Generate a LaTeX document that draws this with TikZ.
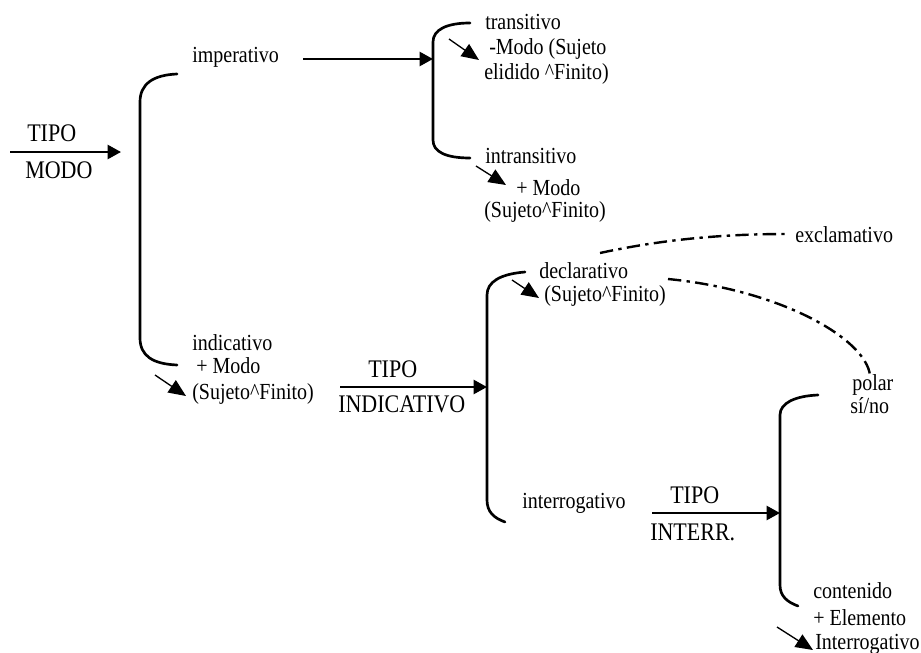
\documentclass[tikz,border=0pt]{standalone}
\usepackage{fontspec}
\usepackage{graphicx}
\setmainfont{Liberation Serif}
\usetikzlibrary{arrows.meta}
\newcommand{\tallT}[1]{\scalebox{1}[1.15]{#1}}
\begin{document}
\begin{tikzpicture}[x=0.75pt,y=-0.75pt,
  lbl/.style={anchor=base west,inner sep=0pt,font=\fontsize{15pt}{18pt}\selectfont},
  caplbl/.style={lbl,font=\fontsize{16.5pt}{18pt}\selectfont},
  brk/.style={line width=2pt,line cap=round},
  bigarrow/.style={line width=1.75pt,-{Triangle[length=10pt,width=10.5pt]}},
  smallarrow/.style={line width=1pt,-{Triangle[length=13pt,width=11pt]}},
  dashdot/.style={line width=1.8pt,dash pattern=on 10pt off 4pt on 2.5pt off 4pt}]
\useasboundingbox (0,0) rectangle (921,653);

% texts
\node[caplbl] (tipoA) at (27,141) {\tallT{TIPO}};
\node[caplbl] (modoA) at (25,178) {\tallT{MODO}};
\node[lbl] (imper) at (192,62) {\tallT{imperativo}};
\node[lbl] (trans) at (485,29) {\tallT{transitivo}};
\node[lbl] (transB) at (489,54) {\tallT{-Modo (Sujeto}};
\node[lbl] (transC) at (484,79) {\tallT{elidido \^{}Finito)}};
\node[lbl] (intrans) at (485,163) {\tallT{intransitivo}};
\node[lbl] (intransB) at (516,195) {\tallT{+ Modo}};
\node[lbl] (intransC) at (484,217) {\tallT{(Sujeto\^{}Finito)}};
\node[lbl] (indic) at (192,350) {\tallT{indicativo}};
\node[lbl] (indicB) at (196,373) {\tallT{+ Modo}};
\node[lbl] (indicC) at (192,399) {\tallT{(Sujeto\^{}Finito)}};
\node[caplbl] (tipoB) at (368,377) {\tallT{TIPO}};
\node[caplbl] (indicat) at (338,412) {\tallT{INDICATIVO}};
\node[lbl] (excl) at (795,242) {\tallT{exclamativo}};
\node[lbl] (decl) at (539,278) {\tallT{declarativo}};
\node[lbl] (declB) at (544,301) {\tallT{(Sujeto\^{}Finito)}};
\node[lbl] (polar) at (852,390) {\tallT{polar}};
\node[lbl] (sino) at (850,413) {\tallT{sí/no}};
\node[lbl] (interr) at (522,508) {\tallT{interrogativo}};
\node[caplbl] (tipoC) at (670,503) {\tallT{TIPO}};
\node[caplbl] (interrB) at (650,540) {\tallT{INTERR.}};
\node[lbl] (cont) at (813,598) {\tallT{contenido}};
\node[lbl] (contB) at (813,625) {\tallT{+ Elemento}};
\node[lbl] (contC) at (815,649) {\tallT{Interrogativo}};

% brackets
\draw[brk] (177,74) .. controls (153,75) and (140,84) .. (140,102) -- (140,338) .. controls (140,356) and (153,364) .. (177,365);
\draw[brk] (470,23) .. controls (446,23) and (433,30) .. (433,42) -- (433,140) .. controls (433,152) and (446,158) .. (470,158);
\draw[brk] (525,272) .. controls (500,274) and (487,282) .. (487,295) -- (487,500) .. controls (487,512) and (494,518) .. (505,522);
\draw[brk] (818,395) .. controls (795,396) and (780,403) .. (780,415) -- (780,585) .. controls (780,596) and (787,602) .. (798,606);

% coordinates for connector ends
\coordinate (a1s) at (10,152);  \coordinate (a1e) at (121,152);
\coordinate (a2s) at (303,59);  \coordinate (a2e) at (433,59);
\coordinate (a3s) at (340,387); \coordinate (a3e) at (487,387);
\coordinate (a4s) at (652,513); \coordinate (a4e) at (780,513);

\draw[bigarrow] (a1s) -- (a1e);
\draw[bigarrow] (a2s) -- (a2e);
\draw[bigarrow] (a3s) -- (a3e);
\draw[bigarrow] (a4s) -- (a4e);

% small arrows
\coordinate (s1s) at (449,39);  \coordinate (s1e) at (479,60);
\coordinate (s2s) at (476,166); \coordinate (s2e) at (506,185);
\coordinate (s3s) at (155,375); \coordinate (s3e) at (186,396);
\coordinate (s4s) at (512,280); \coordinate (s4e) at (539,298);
\coordinate (s5s) at (777,627); \coordinate (s5e) at (813,650);
\draw[smallarrow] (s1s) -- (s1e);
\draw[smallarrow] (s2s) -- (s2e);
\draw[smallarrow] (s3s) -- (s3e);
\draw[smallarrow] (s4s) -- (s4e);
\draw[smallarrow] (s5s) -- (s5e);

% dash-dot curves
\coordinate (d1s) at (600,253); \coordinate (d1e) at (787,234);
\coordinate (d2s) at (668,279); \coordinate (d2e) at (870,375);
\draw[dashdot] (d1s) .. controls (660,240) and (720,234) .. (d1e);
\draw[dashdot] (d2s) .. controls (780,290) and (865,338) .. (d2e);
\end{tikzpicture}
\end{document}
